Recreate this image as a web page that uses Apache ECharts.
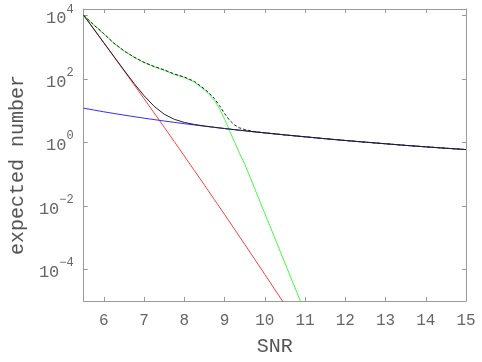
<!DOCTYPE html>
<html>
<head>
<meta charset="utf-8">
<script src="https://cdn.jsdelivr.net/npm/echarts@6/dist/echarts.min.js"></script>
<style>
  html, body { margin: 0; padding: 0; background: #fff; }
  #chart { width: 482px; height: 362px; }
</style>
</head>
<body>
<div id="chart"></div>
<script>
// SNR sample points for the steep, tail and solid total curves
const snr = [5.5, 5.75, 6, 6.25, 6.5, 6.75, 7, 7.25, 7.5, 7.75, 8, 8.25, 8.5, 8.75,
             9, 9.25, 9.5, 9.75, 10, 10.25, 10.5, 11, 11.5, 12, 12.5, 13, 13.5, 14, 14.5, 15];

// finer SNR sampling through the shoulder's knee
const snrShoulder = [5.5, 5.75, 6, 6.25, 6.5, 6.75, 7, 7.25, 7.5, 7.75, 8, 8.25, 8.5, 8.625,
                     8.75, 8.875, 9, 9.125, 9.25, 9.375, 9.5, 9.75, 10, 10.25, 10.5, 11,
                     11.5, 12, 12.5, 13, 13.5, 14, 14.5, 15];

// steep component (red)
const redCounts = [1.0e4, 3.71e3, 1.36e3, 4.99e2, 1.82e2, 65.6, 23.6, 8.41, 2.99, 1.06,
                   0.371, 0.129, 0.0449, 0.0155, 5.31e-3, 1.81e-3, 6.14e-4, 2.07e-4,
                   6.92e-5, 2.30e-5, 7.62e-6];

// shoulder component (green)
const greenCounts = [1.0e4, 5.0e3, 2.63e3, 1.32e3, 759, 479, 324, 240, 186, 138,
                     110, 79.4, 44.7, 31.6, 20.9, 11.5, 5.37, 2.34, 1.0, 0.437,
                     0.209, 0.0347, 5.75e-3, 9.55e-4, 1.58e-4, 4.37e-6];

// slow tail (blue)
const blueCounts = [11.9, 10.4, 9.15, 8.10, 7.20, 6.43, 5.77, 5.19, 4.69, 4.25,
                    3.86, 3.52, 3.22, 2.95, 2.71, 2.50, 2.31, 2.13, 1.98, 1.84,
                    1.71, 1.49, 1.30, 1.14, 1.01, 0.90, 0.80, 0.72, 0.65, 0.59];

// red + blue (solid black)
const totalSolid = [1.0e4, 3.72e3, 1.37e3, 507, 189, 72.0, 29.3, 13.6, 7.68, 5.31,
                    4.23, 3.65, 3.27, 2.97, 2.72, 2.50, 2.31, 2.13, 1.98, 1.84,
                    1.71, 1.49, 1.30, 1.14, 1.01, 0.90, 0.80, 0.72, 0.65, 0.59];

// green + blue (dashed black)
const totalDashed = [1.0e4, 5.02e3, 2.64e3, 1.33e3, 766, 485, 330, 245, 191, 142,
                     114, 82.9, 47.9, 34.7, 23.8, 14.3, 8.08, 4.94, 3.50, 2.84,
                     2.52, 2.17, 1.99, 1.85, 1.71, 1.49, 1.30, 1.14, 1.01, 0.90,
                     0.80, 0.72, 0.65, 0.59];

const xTicks = [6, 7, 8, 9, 10, 11, 12, 13, 14, 15];
const yTicks = [1e-4, 1e-2, 1, 1e2, 1e4];

const pairs = (xs, vals) => vals.map((v, i) => [xs[i], v]);

const FONT = 'Liberation Mono';
const AXIS_GRAY = '#9a9a9a';
const TEXT_GRAY = '#666';

function expLabel(v) {
  const e = Math.round(Math.log10(v));
  const s = e < 0 ? '\u2212' + (-e) : String(e);
  return '{b|10}{s|' + s + '}';
}

const frameAxis = {
  axisLine: { show: true, lineStyle: { color: AXIS_GRAY, width: 1 } },
  axisTick: { show: true, inside: true, length: 4, lineStyle: { color: AXIS_GRAY } },
  splitLine: { show: false }
};

const lineSeries = (name, xs, vals, color, dash) => ({
  name, type: 'line', data: pairs(xs, vals), showSymbol: false,
  lineStyle: { color, width: 1, type: dash || 'solid' }
});

const chart = echarts.init(document.getElementById('chart'), null, { renderer: 'canvas' });

chart.setOption({
  animation: false,
  backgroundColor: '#fff',
  grid: { left: 79, right: 16, top: 9, bottom: 59, containLabel: false },
  xAxis: [
    Object.assign({}, frameAxis, {
      type: 'value', position: 'bottom', min: 5.5, max: 15,
      axisTick: Object.assign({}, frameAxis.axisTick, { customValues: xTicks }),
      axisLabel: {
        customValues: xTicks, margin: 12,
        color: TEXT_GRAY, fontFamily: FONT, fontSize: 16
      },
      name: 'SNR', nameLocation: 'middle', nameGap: 36,
      nameTextStyle: { color: '#555', fontFamily: FONT, fontSize: 20 }
    }),
    Object.assign({}, frameAxis, {
      type: 'value', position: 'top', min: 5.5, max: 15,
      axisTick: Object.assign({}, frameAxis.axisTick, { customValues: xTicks }),
      axisLabel: { show: false }
    })
  ],
  yAxis: [
    Object.assign({}, frameAxis, {
      type: 'log', logBase: 10, position: 'left', min: 1e-5, max: 15849,
      axisTick: Object.assign({}, frameAxis.axisTick, { customValues: yTicks }),
      axisLabel: {
        customValues: yTicks, margin: 10,
        formatter: expLabel,
        rich: {
          b: { color: TEXT_GRAY, fontFamily: FONT, fontSize: 17, lineHeight: 24, verticalAlign: 'bottom' },
          s: { color: TEXT_GRAY, fontFamily: FONT, fontSize: 12, lineHeight: 24, verticalAlign: 'top' }
        }
      },
      name: 'expected number', nameLocation: 'middle', nameGap: 48,
      nameTextStyle: { color: '#555', fontFamily: FONT, fontSize: 20, padding: [0, 20, 0, 0] }
    }),
    Object.assign({}, frameAxis, {
      type: 'log', logBase: 10, position: 'right', min: 1e-5, max: 15849,
      axisTick: Object.assign({}, frameAxis.axisTick, { customValues: yTicks }),
      axisLabel: { show: false }
    })
  ],
  series: [
    lineSeries('steep', snr, redCounts, '#ff4040'),
    lineSeries('shoulder', snrShoulder, greenCounts, '#40ff40'),
    lineSeries('tail', snr, blueCounts, '#3030ff'),
    lineSeries('total', snr, totalSolid, '#222'),
    lineSeries('total alt', snrShoulder, totalDashed, '#222', [3, 2])
  ]
});
</script>
</body>
</html>
